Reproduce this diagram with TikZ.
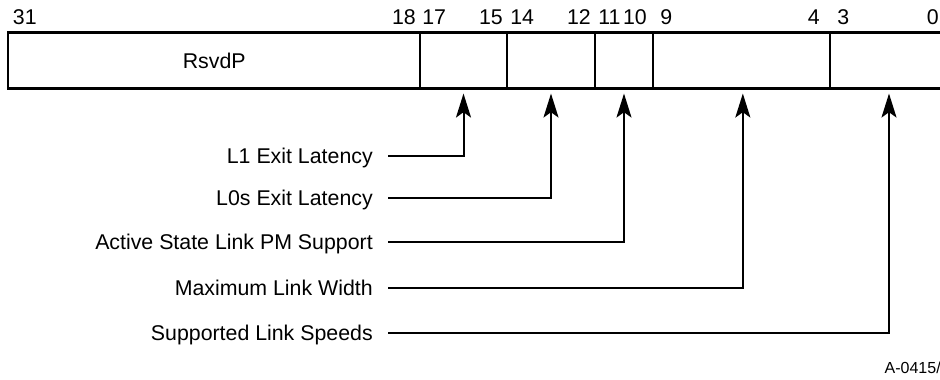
\documentclass[tikz,border=0pt]{standalone}
\usepackage{fontspec}
\setmainfont{Liberation Sans}
\usetikzlibrary{arrows.meta}
\tikzset{
  field/.style={draw, line width=0.8pt, minimum height=41.25pt, inner sep=0pt},
  bitnum/.style={inner sep=0pt},
  fieldlabel/.style={anchor=east, inner xsep=11.25pt, inner ysep=0pt, text height=11.4pt, text depth=0pt},
  conn/.style={line width=1.5pt, -{Stealth[length=18pt,width=11.25pt,inset=4pt]}, shorten >=3.75pt}
}
\begin{document}
\begin{tikzpicture}[x=0.75pt, y=-0.75pt, font=\fontsize{16}{19}\selectfont]
  \useasboundingbox (0,0) rectangle (940,379);
  \clip (0,0) rectangle (940,379);
  % register fields
  \node[field, minimum width=308.6pt] (rsvd) at (214.25,60.5) {RsvdP};
  \node[field, minimum width=65.25pt] (f17) at (463.5,60.5) {};
  \node[field, minimum width=66pt] (f14) at (551,60.5) {};
  \node[field, minimum width=43.5pt] (f11) at (624,60.5) {};
  \node[field, minimum width=132.75pt] (f9) at (741.5,60.5) {};
  \node[field, minimum width=88.5pt] (f3) at (889,60.5) {};
  \draw[line width=1.6pt] (rsvd.north west) rectangle (f3.south east);
  % bit numbers
  \node[bitnum, anchor=base west] (b31) at (12.7,24.3) {31};
  \node[bitnum, anchor=base east] (b18) at (416,24.3) {18};
  \node[bitnum, anchor=base west] (b17) at (422,24.3) {17};
  \node[bitnum, anchor=base east] (b15) at (503,24.3) {15};
  \node[bitnum, anchor=base west] (b14) at (510,24.3) {14};
  \node[bitnum, anchor=base east] (b12) at (591,24.3) {12};
  \node[bitnum, anchor=base west] (b11) at (598,24.3) {11};
  \node[bitnum, anchor=base east] (b10) at (647,24.3) {10};
  \node[bitnum, anchor=base west] (b9) at (660,24.3) {9};
  \node[bitnum, anchor=base east] (b4) at (820,24.3) {4};
  \node[bitnum, anchor=base west] (b3) at (837,24.3) {3};
  \node[bitnum, anchor=base east] (b0) at (939,24.3) {0};
  % field names
  \node[fieldlabel] (l1) at (388,156) {L1 Exit Latency};
  \node[fieldlabel] (l0s) at (388,198) {L0s Exit Latency};
  \node[fieldlabel] (aspm) at (388,242) {Active State Link PM Support};
  \node[fieldlabel] (mlw) at (388,288) {Maximum Link Width};
  \node[fieldlabel] (sls) at (388,333) {Supported Link Speeds};
  \draw[conn] (l1.east) -| (f17.south);
  \draw[conn] (l0s.east) -| (f14.south);
  \draw[conn] (aspm.east) -| (f11.south);
  \draw[conn] (mlw.east) -| ([xshift=1pt]f9.south);
  \draw[conn] (sls.east) -| (f3.south);
  \node[anchor=base east, inner sep=0pt, font=\fontsize{12}{14}\selectfont] (fig) at (941,373) {A-0415/};
\end{tikzpicture}
\end{document}
